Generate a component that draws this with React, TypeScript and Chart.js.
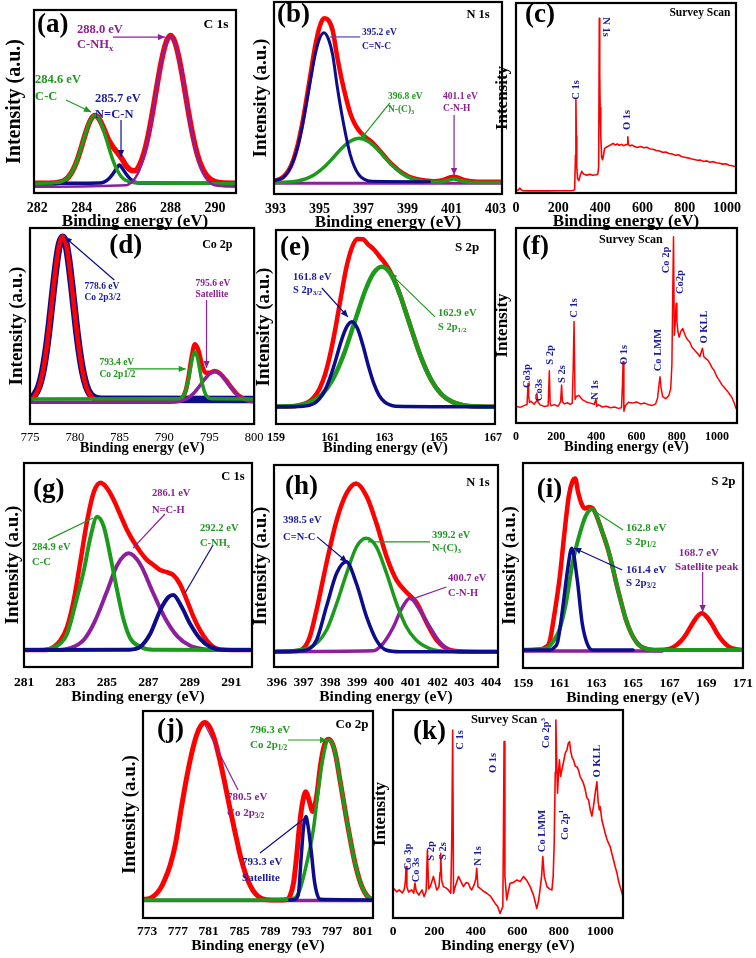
import React, { useEffect, useRef } from "react";
import { Chart, registerables } from "chart.js";
Chart.register(...registerables);

const FONT = "'Liberation Serif', 'Times New Roman', Times, serif";
const RED = "#ff0000";
const GRN = "#1c9a1c";
const NAV = "#0c0c8c";
const PUR = "#8e1f9c";
const TG = "#1f991f";
const TN = "#1b1b9b";
const TP = "#8a2290";
const BLK = "#000000";

// ---------- (a) C 1s ----------
const aTicks = [282, 284, 286, 288, 290];
const aRedE = [281.85, 282.5, 283.0, 283.2, 283.4, 283.6, 283.8, 284.0, 284.2, 284.4, 284.6, 284.8, 285.0, 285.2, 285.4, 285.6, 285.8, 286.0, 286.2, 286.4, 286.6, 286.8, 287.0, 287.2, 287.4, 287.6, 287.8, 288.0, 288.2, 288.4, 288.6, 288.8, 289.0, 289.2, 289.4, 289.6, 289.8, 290.0, 290.4, 290.95];
const aRedI = [5.3, 5.3, 5.9, 6.8, 8.7, 12.4, 18.1, 25.7, 33.7, 39.9, 42.3, 40.2, 35, 29.3, 25.3, 22.2, 18.9, 14.9, 12.6, 12.2, 15.2, 21.7, 31.7, 44.8, 59.3, 72.7, 82.3, 86, 82.3, 72.7, 59.3, 44.8, 31.7, 21.5, 14.4, 10, 7.5, 6.2, 5.4, 5.3];
const aGreenE = [281.85, 283.0, 283.2, 283.4, 283.6, 283.8, 284.0, 284.2, 284.4, 284.6, 284.8, 285.0, 285.2, 285.4, 285.6, 285.8, 286.0, 286.4, 290.95];
const aGreenI = [5.3, 5.9, 6.8, 8.7, 12.4, 18.1, 25.7, 33.7, 39.9, 42.3, 39.9, 33.7, 25.7, 18.1, 12.4, 8.7, 6.8, 5.6, 5.3];
const aBlueE = [281.85, 284.8, 285.0, 285.2, 285.4, 285.6, 285.7, 285.8, 286.0, 286.2, 286.4, 286.6, 290.95];
const aBlueI = [5.3, 5.5, 6.0, 7.5, 10.4, 14, 15.3, 14, 10.4, 7.5, 6.0, 5.5, 5.3];
const aPurpleE = [281.85, 286.0, 286.2, 286.4, 286.6, 286.8, 287.0, 287.2, 287.4, 287.6, 287.8, 288.0, 288.2, 288.4, 288.6, 288.8, 289.0, 289.2, 289.4, 289.6, 289.8, 290.0, 290.95];
const aPurpleI = [3.4, 4.2, 5.5, 8, 12.5, 20, 30.5, 44, 59, 72, 82, 85.5, 82, 72, 59, 44, 30.5, 20, 12.5, 8, 5.5, 4.2, 3.4];

// ---------- (b) N 1s ----------
const bTicks = [393, 395, 397, 399, 401, 403];
const bRedE = [392.93, 393.2, 393.4, 393.6, 393.8, 394.0, 394.2, 394.4, 394.6, 394.8, 395.0, 395.2, 395.4, 395.6, 395.8, 396.0, 396.2, 396.4, 396.6, 396.8, 397.0, 397.2, 397.4, 397.6, 397.8, 398.0, 398.2, 398.4, 398.6, 398.8, 399.0, 399.4, 399.8, 400.2, 400.6, 400.9, 401.1, 401.3, 401.6, 402.2, 403.3];
const bRedI = [7.0, 7.8, 9.4, 12.4, 17.5, 25.2, 35.8, 48.9, 63, 76.8, 86.9, 91.5, 90.5, 85.1, 71.8, 60.2, 50.3, 42, 36.6, 33, 30.6, 28.6, 26.9, 24.4, 21.8, 19.1, 16.5, 14.4, 12.4, 10.8, 9.4, 7.8, 7.0, 6.6, 7.2, 8.5, 9, 8.5, 7.2, 6.4, 6.4];
const bBlueE = [392.93, 393.2, 393.4, 393.6, 393.8, 394.0, 394.2, 394.4, 394.6, 394.8, 395.0, 395.2, 395.4, 395.6, 395.8, 396.0, 396.2, 396.4, 396.6, 396.8, 397.0, 397.4, 400.0];
const bBlueI = [6.9, 7.7, 9.2, 12.1, 16.9, 24.3, 34.4, 46.8, 60, 72.4, 80.9, 84, 80.9, 72.4, 56.4, 42.4, 30.4, 20.4, 13.9, 9.9, 7.9, 6.6, 6.4];
const bGreenE = [392.93, 393.6, 394.0, 394.4, 394.8, 395.2, 395.6, 396.0, 396.4, 396.8, 397.2, 397.6, 398.0, 398.4, 398.8, 399.2, 399.6, 400.0, 400.5, 400.8, 401.1, 401.4, 401.7, 402.2, 403.3];
const bGreenI = [6.0, 6.2, 6.8, 8.0, 10.3, 13.9, 18.6, 23.7, 27.5, 29, 27.5, 23.7, 18.6, 13.9, 10.3, 8.0, 6.8, 6.2, 6.3, 7.0, 7.8, 7.0, 6.3, 6.0, 6.0];
const bPurpleE = [392.93, 403.3];
const bPurpleI = [5.6, 5.6];

// ---------- (c) survey ----------
const surveyTicks = [0, 200, 400, 600, 800, 1000];
const cE = [0, 10, 18, 25, 35, 60, 100, 150, 200, 250, 270, 278, 282, 284, 286, 288, 292, 298, 305, 312, 320, 335, 350, 365, 380, 388, 392, 395, 397, 399,
  402, 406, 410, 415, 420, 430, 440, 450, 460, 470, 480, 490, 500, 510, 520, 527, 530, 533, 540, 550,
  560, 575, 590, 605, 620, 635, 650, 665, 680, 695, 710, 725, 740, 755, 770, 785, 800, 815, 830, 845, 860, 875, 890, 905, 920, 935, 950, 965, 980, 995, 1010, 1025, 1043];
const cI = [1.3, 1.5, 2.6, 1.6, 1.2, 1.1, 1.2, 1.1, 1.2, 1.2, 1.3, 1.8, 20, 49, 30, 14, 7.5, 6.5, 9.5, 11.4, 10, 9.4, 9.8, 9.3, 9.6, 10, 14, 92, 62, 45,
  30, 19, 17.5, 20, 23.5, 24.2, 24.8, 25.4, 26.1, 25.3, 25.8, 25.1, 25.6, 24.9, 25.4, 25.6, 29.6, 25.4, 24.8, 25.2,
  24.6, 24.0, 24.5, 23.8, 24.1, 23.2, 23.0, 22.4, 22.1, 21.4, 21.6, 20.8, 20.6, 19.8, 20.1, 19.2, 18.8, 18.5, 18.0, 17.6, 17.2, 17.3, 16.6, 16.9, 16.2, 16.5, 15.9, 15.7, 15.2, 15.4, 14.6, 14.3, 13.8];

// ---------- (d) Co 2p ----------
const dTicks = [775, 780, 785, 790, 795, 800];
const dRedE = [775, 775.5, 776.0, 776.4, 776.8, 777.2, 777.6, 778.0, 778.3, 778.65, 779.0, 779.3, 779.7, 780.1, 780.5, 780.9, 781.3, 781.7, 782.2, 783, 785, 788, 790, 791.0, 791.6, 792.0, 792.4, 792.7, 793.0, 793.4, 793.8, 794.2, 794.6, 795.0, 795.6, 796.2, 796.8, 797.4, 798.0, 798.6, 799.2, 800];
const dRedI = [12.3, 14.1, 18.7, 25.9, 37.1, 52, 68.8, 84.1, 92.1, 95.6, 92.1, 84.1, 68.8, 52, 37.1, 25.9, 18.7, 14.8, 12.5, 11.5, 11.4, 11.4, 11.4, 11.5, 11.9, 13.2, 17.5, 24.4, 33.3, 40.7, 37.4, 29.7, 26.1, 26.1, 27, 25.8, 22.7, 19, 15.7, 13.5, 12.3, 11.7];
const dBlueE = [775, 775.5, 776.0, 776.4, 776.8, 777.2, 777.6, 778.0, 778.3, 778.65, 779.0, 779.3, 779.7, 780.1, 780.5, 780.9, 781.3, 781.7, 782.2, 783, 800];
const dBlueI = [13.2, 14.8, 19.2, 26.3, 37.3, 52, 68.8, 84, 92, 95.3, 92, 84, 68.8, 52, 37.3, 26.3, 19.2, 15.4, 13.4, 12.6, 12.5];
const dGreenE = [775, 791.6, 792.0, 792.3, 792.6, 792.9, 793.1, 793.4, 793.7, 793.9, 794.2, 794.5, 794.8, 795.2, 800];
const dGreenI = [12.8, 12.9, 13.7, 16, 21, 28.6, 33.5, 36.8, 33.5, 28.6, 21, 16, 13.7, 12.9, 12.8];
const dPurpleE = [775, 791.6, 792.0, 792.6, 793.2, 793.8, 794.4, 795.0, 795.6, 796.2, 796.8, 797.4, 798.0, 798.6, 799.2, 800];
const dPurpleI = [11.1, 11.5, 12, 13.2, 15.4, 18.7, 22.4, 25.5, 26.7, 25.5, 22.4, 18.7, 15.4, 13.2, 12, 11.3];

// ---------- (e) S 2p ----------
const eTicks = [159, 161, 163, 165, 167];
const eRedE = [159, 159.6, 160.0, 160.2, 160.4, 160.6, 160.8, 161.0, 161.2, 161.4, 161.6, 161.8, 162.0, 162.2, 162.4, 162.6, 162.8, 163.0, 163.2, 163.4, 163.6, 163.8, 164.0, 164.2, 164.4, 164.6, 164.8, 165.0, 165.2, 165.4, 165.6, 165.8, 166.2, 167.07];
const eRedI = [8.9, 9.0, 10.2, 11.4, 13.8, 18.1, 25.2, 36.1, 50.1, 66.1, 81, 91, 95.3, 95.2, 92.5, 90.1, 86.6, 83.2, 78.8, 72.9, 65.4, 57, 48.4, 40, 32.4, 26, 20.8, 16.9, 14, 12.1, 10.8, 10, 9.2, 8.9];
const eBlueE = [159, 160.0, 160.4, 160.6, 160.8, 161.0, 161.2, 161.4, 161.6, 161.8, 162.0, 162.2, 162.4, 162.6, 162.8, 163.0, 163.2, 163.4, 167.07];
const eBlueI = [8.9, 9.1, 10.6, 13, 17.2, 24.2, 33, 42.6, 49.9, 52.7, 49.3, 40.7, 30.2, 21.1, 14.8, 11.4, 9.8, 9.2, 8.9];
const eGreenE = [159, 159.5, 159.9, 160.3, 160.7, 161.1, 161.5, 161.9, 162.3, 162.6, 162.9, 163.2, 163.5, 163.9, 164.3, 164.7, 165.1, 165.5, 165.9, 166.3, 167.07];
const eGreenI = [9.0, 9.1, 9.7, 11.4, 15.3, 23.2, 36, 52.7, 69.2, 77.9, 81.1, 77.9, 69.2, 52.7, 36, 23.2, 15.3, 11.4, 9.7, 9.1, 8.9];

// ---------- (f) survey ----------
const fE = [0, 20, 40, 55, 60, 63, 67, 75, 90, 100, 104, 108, 120, 140, 160, 166, 170, 175, 190, 210, 222, 227, 231, 240, 255, 270, 280, 285, 289, 294,
  300, 312, 330, 350, 370, 390, 398, 402, 410, 430, 450, 470, 490, 510, 525, 530, 533, 537, 545, 560, 580, 600, 620, 640, 660, 680, 695, 705, 712, 717,
  722, 730, 745, 760, 770, 776, 780, 784, 788, 792, 797, 801, 806, 812, 820, 830, 838, 846, 855, 865, 875, 885, 895, 905, 915, 922, 928, 935, 945, 955,
  965, 975, 985, 995, 1005, 1015, 1025, 1035, 1045, 1055, 1065, 1075, 1085, 1095, 1100];
const fI = [8.6, 8.0, 8.9, 9.5, 20.3, 14, 10.5, 11.2, 9.6, 11, 15.2, 11, 9.3, 8.5, 8.8, 26.8, 10, 8.8, 9.4, 8.6, 11, 19.5, 11, 9.8, 10.4, 9.6, 10.2, 30, 52, 12,
  13.6, 14.2, 12, 10.8, 10.2, 9.6, 12.3, 8.6, 9.4, 8.2, 8.6, 7.8, 8.2, 7.5, 7.8, 20, 31.4, 6, 9, 10.6, 10.2, 10.8, 9.8, 10.2, 9.4, 9.0, 9.8, 13, 20, 23.7,
  18, 13.5, 12.5, 14, 17.5, 30, 65, 95.5, 45, 50, 61.4, 52, 46.8, 44, 47, 48.5, 46, 44, 42.6, 41.5, 39, 37.8, 36.6, 35.5, 34, 36.5, 38.3, 34, 33, 32.2,
  30.6, 28.5, 27.2, 24.8, 22.9, 21.3, 19.5, 18.5, 17.2, 16, 14.5, 13, 10.5, 7.5, 7.8];

// ---------- (g) C 1s ----------
const gTicks = [281, 283, 285, 287, 289, 291];
const gRedE = [281, 282.0, 282.44, 282.76, 283.08, 283.4, 283.73, 284.05, 284.37, 284.69, 285.01, 285.33, 285.65, 285.97, 286.29, 286.61, 286.93, 287.25, 287.57, 287.89, 288.21, 288.53, 288.85, 289.17, 289.49, 289.81, 290.13, 290.45, 292];
const gRedI = [8.3, 8.3, 9.9, 13.1, 19.6, 32.7, 52.3, 71.9, 85.8, 90.3, 87.6, 81.9, 74.5, 67.2, 61.4, 56.5, 52.5, 50, 47.5, 46.5, 45, 40.5, 32.9, 24.7, 18.1, 13.2, 9.9, 8.6, 8.3];
const gGreenE = [281, 282.0, 282.76, 283.08, 283.57, 283.89, 284.21, 284.53, 284.85, 285.17, 285.49, 285.81, 286.13, 286.61, 287.2, 292];
const gGreenI = [8.3, 8.5, 11.6, 16.3, 34.5, 47.5, 63.9, 73.7, 68.8, 54.1, 37.7, 23, 14, 9.9, 8.4, 8.3];
const gPurpleE = [281, 282.5, 283.3, 283.9, 284.4, 285.0, 285.5, 286.05, 286.6, 287.2, 287.8, 288.4, 289.0, 289.6, 290.5, 292];
const gPurpleI = [8.3, 8.3, 9.5, 13.5, 22, 37, 50, 55.7, 50.5, 37, 24, 15, 10.5, 8.8, 8.3, 8.3];
const gBlueE = [281, 286.1, 286.61, 287.09, 287.57, 287.97, 288.2, 288.61, 289.01, 289.49, 289.97, 290.5, 292];
const gBlueI = [8.3, 8.5, 9.9, 16.3, 27.8, 34.3, 35.3, 29.4, 21.2, 13.9, 9.9, 8.5, 8.3];

// ---------- (h) N 1s ----------
const hTicks = [396, 397, 398, 399, 400, 401, 402, 403, 404];
const hRedE = [395.89, 396.6, 396.98, 397.23, 397.48, 397.85, 398.23, 398.6, 398.96, 399.35, 399.72, 400.1, 400.47, 400.84, 401.21, 401.59, 401.96, 402.46, 403, 404.26];
const hRedI = [7.6, 7.8, 9.2, 15, 28.2, 51.3, 72.6, 86, 90.9, 84.5, 71, 54.5, 43, 37, 32, 22, 13.5, 8.5, 7.7, 7.6];
const hBlueE = [395.89, 397.0, 397.48, 397.85, 398.23, 398.59, 398.97, 399.35, 399.72, 400.1, 400.6, 404.26];
const hBlueI = [7.6, 8.2, 13.4, 29.9, 46.4, 52.1, 41.3, 24.8, 13.2, 8.3, 7.6, 7.6];
const hGreenE = [395.89, 397.2, 397.85, 398.23, 398.6, 398.97, 399.33, 399.72, 400.1, 400.47, 400.84, 401.21, 401.71, 402.3, 404.26];
const hGreenI = [7.6, 9.5, 18.2, 31.4, 46.2, 59.4, 63.7, 59.4, 46.2, 31.4, 19.8, 13.2, 9.1, 7.8, 7.6];
const hPurpleE = [395.89, 399.6, 399.97, 400.35, 400.66, 400.97, 401.34, 401.71, 402.08, 402.46, 403, 404.26];
const hPurpleI = [7.6, 8.0, 11.7, 19.8, 28.9, 34, 28.1, 19.8, 12.4, 8.3, 7.6, 7.6];

// ---------- (i) S 2p ----------
const iTicks = [159, 161, 163, 165, 167, 169, 171];
const iRedE = [159, 160.0, 160.2, 160.45, 160.7, 161.0, 161.25, 161.5, 161.7, 161.85, 162.0, 162.2, 162.4, 162.6, 162.8, 163.0, 163.3, 163.6, 163.84, 164.1, 164.37, 164.6, 164.9, 165.2, 165.44, 165.8, 166.2, 166.8, 167.2, 167.6, 167.9, 168.2, 168.5, 168.75, 169.0, 169.3, 169.6, 169.9, 170.2, 170.6, 171];
const iRedI = [8.8, 9.2, 10, 12.7, 25.5, 44, 65, 84, 91, 92.5, 86, 80, 77.8, 78.5, 78, 74.5, 67, 59, 51, 41, 31.5, 24, 17, 12.5, 10.4, 9.2, 8.8, 9, 10.2, 13, 16.5, 21, 25, 26.7, 25.2, 21.5, 16.7, 13, 10.6, 9.2, 8.8];
const iBlueE = [159, 160.5, 160.7, 160.89, 161.16, 161.43, 161.66, 161.96, 162.23, 162.5, 162.8, 165];
const iBlueI = [8.8, 8.8, 10, 12.7, 28.8, 47.8, 58.4, 43, 21.8, 11.9, 8.8, 8.8];
const iGreenE = [159, 160.3, 160.62, 160.98, 161.34, 161.7, 162.05, 162.41, 162.77, 163.0, 163.3, 163.6, 163.84, 164.1, 164.37, 164.6, 164.9, 165.2, 165.44, 165.8, 166.2, 171];
const iGreenI = [8.8, 9.5, 12.7, 18.5, 31.5, 51, 64, 74, 77.6, 74.5, 67, 59, 51, 41, 31.5, 24, 17, 12.5, 10.4, 9.2, 8.8, 8.8];
const iPurpleE = [159, 166.6];
const iPurpleI = [8.3, 8.3];

// ---------- (j) Co 2p ----------
const jTicks = [773, 777, 781, 785, 789, 793, 797, 801];
const jRedE = [772.48, 773.4, 774.0, 774.7, 775.3, 776.0, 776.7, 777.4, 778.0, 778.7, 779.4, 780.0, 780.5, 781.0, 781.7, 782.4, 783.1, 783.8, 784.5, 785.1, 785.8, 786.4, 787.1, 787.8, 788.5, 790, 791.0, 791.5, 792.0, 792.4, 792.8, 793.2, 793.6, 794.0, 794.5, 795.0, 795.5, 796.0, 796.5, 797.0, 797.5, 798.0, 798.5, 799.0, 799.5, 800.0, 800.5, 801.0, 801.5, 802.0, 802.3];
const jRedI = [8.9, 9.5, 11, 14, 18.5, 25.5, 36, 52, 65, 78, 88, 93, 94.5, 93, 87, 77, 65, 52, 40, 30, 21, 15.5, 11.5, 9.5, 8.8, 8.7, 8.8, 10.3, 17, 30, 45.7, 56.5, 61, 57, 51.5, 59, 74, 83.5, 86.3, 84.5, 78, 67, 56, 45, 35, 26, 19, 14, 10.8, 9.2, 8.9];
const jBlueE = [791.5, 792.0, 792.6, 793.0, 793.3, 793.6, 793.9, 794.3, 794.7, 795.1, 795.5, 802.3];
const jBlueI = [8.7, 8.8, 11, 30, 44, 49, 44, 32, 18, 11, 9, 8.7];
const jGreenE = [772.48, 789, 792.0, 792.8, 793.7, 794.56, 795.2, 795.8, 796.5, 797.0, 797.5, 798.0, 798.5, 799.0, 799.5, 800.0, 800.5, 801.0, 801.5, 802.3];
const jGreenI = [8.7, 8.7, 9.5, 13.5, 26.4, 42.5, 61.8, 77, 86, 84.5, 78, 67, 56, 45, 35, 26, 19, 14, 10.8, 8.9];
const jPurpleE = [772.48, 802.3];
const jPurpleI = [8.4, 8.4];

// ---------- (k) survey ----------
const kE = [5, 18, 30, 45, 55, 60, 63, 67, 75, 90, 100, 106, 112, 125, 140, 150, 160, 166, 172, 180, 195, 211, 222, 227, 230, 235, 243, 255, 267, 279,
  284, 288, 292, 300, 316, 328, 340, 352, 364, 372, 380, 392, 400, 404, 410, 420, 435, 453, 470, 480, 493, 505, 517, 524, 530, 533, 536, 540, 549, 557,
  565, 580, 598, 614, 630, 646, 662, 678, 694, 702, 710, 717, 723, 730, 743, 755, 767, 773, 778, 783, 786, 790, 794, 799, 803, 809, 815, 823, 831, 840,
  846, 852, 858, 865, 871, 880, 888, 895, 903, 911, 919, 927, 935, 944, 952, 960, 968, 976, 984, 990, 996, 1000, 1008, 1016, 1024, 1032, 1040, 1048, 1056, 1064,
  1072, 1080, 1088, 1096, 1104, 1110];
const kI = [14, 12.6, 13.5, 12, 14, 18, 24.7, 15, 12.5, 13.5, 12, 16.8, 13, 11, 13.5, 10.3, 13, 32.7, 14, 15.1, 20, 13.5, 15, 22, 31.1, 18, 15.1, 14.5, 13.5, 11.9,
  40, 90.4, 11.9, 15, 20, 17.5, 15.1, 17, 16.7, 14.5, 13.5, 16, 19, 23.9, 15, 14.3, 13, 11.9, 10.5, 9, 7, 5.5, 2.2, 4, 5.4, 40, 84.8, 20, 8.7, 13,
  16.7, 17, 18.3, 17.5, 20, 18, 15.1, 11, 4.6, 8, 14, 20, 29.5, 20, 15.1, 14, 13.5, 20, 35.9, 70, 95.2, 75, 60, 70, 76, 68, 71.2, 75, 79.2, 81,
  84, 84.8, 80, 77, 76, 73, 72.5, 71.2, 68, 66.5, 64.8, 62, 58, 56.7, 52, 49, 54, 60, 65.5, 56, 52, 53.5, 47, 44, 40.7, 38, 36, 34.3, 31, 28,
  24.7, 22, 18, 15, 12.5, 10.2];

// ---------- panel specs ----------
const C = (xs, ys, color, width, smooth = true) => ({ xs, ys, color, width, smooth });
const N = (t, x, y, c, s, al = "left", rot = 0, w = "bold") => ({ t, x, y, c, s, al, rot, w });
const A = (x1, y1, x2, y2, c, head = true) => ({ x1, y1, x2, y2, c, head });

const ROW1 = { tickSize: 14, tickWeight: "bold", tickOff: 15, titleSize: 17, titleOff: 29 };
const ROW2 = { tickSize: 12, tickWeight: "bold", tickOff: 14, titleSize: 14.5, titleOff: 24 };
const ROW3 = { tickSize: 13.5, tickWeight: "bold", tickOff: 16, titleSize: 15.5, titleOff: 30 };
const ROW4 = { tickSize: 13.5, tickWeight: "bold", tickOff: 14, titleSize: 15.5, titleOff: 28 };
const YT = "Intensity (a.u.)";

const PANELS = [
  {
    ...ROW1, L: 34, T: 10, W: 202, H: 183, xMin: 281.85, xMax: 290.95, ticks: aTicks,
    yTitle: YT, yTitleSize: 20, yTitleOff: -19,
    curves: [C(aRedE, aRedI, RED, 5.5), C(aBlueE, aBlueI, NAV, 3.5), C(aGreenE, aGreenI, GRN, 3.5), C(aPurpleE, aPurpleI, PUR, 2.5)],
    notes: [N("(a)", 281.99, 91.8, BLK, 27), N("C 1s", 290.05, 92.3, BLK, 13.5, "center"),
      N("288.0 eV", 283.79, 89.1, TP, 12.5), N("C-NH_{x}", 283.79, 80.9, TP, 12.5),
      N("284.6 eV", 281.9, 61.7, TG, 12.5), N("C-C", 281.9, 52.5, TG, 12.5),
      N("285.7 eV", 284.6, 51.4, TN, 12.5), N("N=C-N", 284.6, 42.6, TN, 12.5)],
    arrows: [A(285.41, 85.2, 287.75, 85.2, PUR), A(283.29, 50.8, 284.42, 44.3, GRN), A(285.77, 39.9, 285.77, 19.7, NAV)],
  },
  {
    ...ROW1, L: 274, T: 2, W: 228, H: 192, xMin: 392.93, xMax: 403.3, ticks: bTicks,
    yTitle: YT, yTitleSize: 19, yTitleOff: -13,
    curves: [C(bPurpleE, bPurpleI, PUR, 3), C(bRedE, bRedI, RED, 4.5), C(bGreenE, bGreenI, GRN, 3.5), C(bBlueE, bBlueI, NAV, 3)],
    notes: [N("(b)", 393.07, 93.2, BLK, 27), N("N 1s", 402.21, 93.2, BLK, 12.5, "center"),
      N("395.2 eV", 396.93, 83.9, TN, 9.5), N("C=N-C", 396.93, 76.6, TN, 9.5),
      N("396.8 eV", 398.11, 50.5, TG, 9.5), N("N-(C)_{3}", 398.11, 43.8, TG, 9.5),
      N("401.1 eV", 400.62, 50.5, TP, 9.5), N("C-N-H", 400.62, 44.3, TP, 9.5)],
    arrows: [A(396.85, 81.8, 395.48, 81.8, "#4a4ab4", false), A(398.2, 47.4, 396.84, 28.1, GRN), A(401.12, 41.1, 401.12, 9.9, PUR)],
  },
  {
    ...ROW1, L: 516, T: 3, W: 220, H: 190, xMin: 0, xMax: 1043, ticks: surveyTicks,
    yTitle: "Intensity", yTitleSize: 17, yTitleOff: -13,
    curves: [C(cE, cI, RED, 1.6, false)],
    notes: [N("(c)", 42.7, 93.7, BLK, 27), N("Survey Scan", 872, 94.7, BLK, 11.5, "center"),
      N("C 1s", 284.4, 54.2, TN, 10.5, "center", -90), N("N 1s", 426.5, 87.4, TN, 10.5, "center", 90),
      N("O 1s", 526, 38.4, TN, 10.5, "center", -90)],
    arrows: [],
  },
  {
    ...ROW2, tickWeight: "normal", tickSize: 12.5, L: 30, T: 228, W: 226, H: 196, xMin: 775, xMax: 800, ticks: dTicks,
    yTitle: YT, yTitleSize: 19, yTitleOff: -12.5,
    curves: [C(dBlueE, dBlueI, NAV, 7.5), C(dRedE, dRedI, RED, 4.5), C(dPurpleE, dPurpleI, PUR, 3.5), C(dGreenE, dGreenI, GRN, 3.5)],
    notes: [N("(d)", 783.85, 90.8, BLK, 27), N("Co 2p", 795.9, 91.3, BLK, 12, "center"),
      N("778.6 eV", 781.08, 69.9, TN, 9.5), N("Co 2p3/2", 781.08, 64.3, TN, 9.5),
      N("795.6 eV", 793.47, 71.9, TP, 9.5), N("Satellite", 793.47, 65.8, TP, 9.5),
      N("793.4 eV", 782.74, 31.6, TG, 9.5), N("Co 2p1/2", 782.74, 25, TG, 9.5)],
    arrows: [A(784.4, 73.5, 778.87, 95.4, NAV), A(794.69, 63.3, 794.69, 28.6, PUR), A(785.84, 28.1, 792.37, 28.1, GRN)],
  },
  {
    ...ROW2, L: 276, T: 230, W: 219, H: 194, xMin: 159, xMax: 167.07, ticks: eTicks,
    yTitle: YT, yTitleSize: 19, yTitleOff: -12,
    curves: [C(eRedE, eRedI, RED, 4.5), C(eGreenE, eGreenI, GRN, 4.5), C(eBlueE, eBlueI, NAV, 3.5)],
    notes: [N("(e)", 159.15, 90.7, BLK, 27), N("S 2p", 166.04, 90.7, BLK, 13, "center"),
      N("161.8 eV", 159.63, 75.8, TN, 10.5), N("S 2p_{3/2}", 159.63, 69.1, TN, 10.5),
      N("162.9 eV", 164.97, 57.2, TG, 10.5), N("S 2p_{1/2}", 164.97, 50, TG, 10.5)],
    arrows: [A(160.69, 70.1, 161.65, 55.2, NAV), A(164.86, 55.2, 163.2, 77.8, GRN)],
  },
  {
    ...ROW2, L: 516, T: 228, W: 221, H: 195, xMin: 0, xMax: 1100, ticks: surveyTicks,
    yTitle: "Intensity", yTitleSize: 17, yTitleOff: -13,
    curves: [C(fE, fI, RED, 1.5, false)],
    notes: [N("(f)", 30, 90.3, BLK, 27), N("Survey Scan", 572, 93.8, BLK, 12, "center"),
      N("Co3p", 55, 24.1, TN, 10.5, "center", -90), N("Co3s", 114, 16.9, TN, 10.5, "center", -90),
      N("S 2p", 169, 34.9, TN, 10.5, "center", -90), N("S 2s", 229, 25.1, TN, 10.5, "center", -90),
      N("C 1s", 289, 59, TN, 10.5, "center", -90), N("N 1s", 393, 16.9, TN, 10.5, "center", -90),
      N("O 1s", 538, 34.9, TN, 10.5, "center", -90), N("Co LMM", 707, 37.4, TN, 10.5, "center", -90),
      N("Co 2p", 747, 83.6, TN, 10.5, "center", -90), N("Co2p", 816, 72.3, TN, 10.5, "center", -90),
      N("O KLL", 936, 49.2, TN, 10.5, "center", -90)],
    arrows: [],
  },
  {
    ...ROW3, L: 24, T: 463, W: 228, H: 204, xMin: 281, xMax: 292, ticks: gTicks,
    yTitle: YT, yTitleSize: 19, yTitleOff: -10.5,
    curves: [C(gRedE, gRedI, RED, 4.5), C(gPurpleE, gPurpleI, PUR, 4), C(gGreenE, gGreenI, GRN, 4), C(gBlueE, gBlueI, NAV, 4)],
    notes: [N("(g)", 281.43, 86.8, BLK, 27), N("C 1s", 291.08, 93.1, BLK, 12.5, "center"),
      N("286.1 eV", 287.17, 85.3, TP, 10.5), N("N=C-H", 287.17, 77, TP, 10.5),
      N("292.2 eV", 289.49, 68.1, TG, 10.5), N("C-NH_{x}", 289.49, 60.8, TG, 10.5),
      N("284.9 eV", 281.39, 58.8, TG, 10.5), N("C-C", 281.39, 51.5, TG, 10.5)],
    arrows: [A(287.8, 75, 286.26, 58.3, PUR, false), A(290.12, 59.8, 288.77, 36.3, NAV, false), A(282.16, 62.3, 284.33, 73, GRN, false)],
  },
  {
    ...ROW3, L: 274, T: 465, W: 224, H: 202, xMin: 395.89, xMax: 404.26, ticks: hTicks,
    yTitle: YT, yTitleSize: 19, yTitleOff: -12.5,
    curves: [C(hRedE, hRedI, RED, 4.5), C(hPurpleE, hPurpleI, PUR, 3.5), C(hGreenE, hGreenI, GRN, 3.5), C(hBlueE, hBlueI, NAV, 3.5)],
    notes: [N("(h)", 396.3, 89.1, BLK, 27), N("N 1s", 403.51, 91.1, BLK, 12.5, "center"),
      N("398.5 eV", 396.23, 72.8, TN, 10.5), N("C=N-C", 396.23, 64.4, TN, 10.5),
      N("399.2 eV", 401.79, 65.3, TG, 10.5), N("N-(C)_{3}", 401.79, 58.9, TG, 10.5),
      N("400.7 eV", 402.39, 44.1, TP, 10.5), N("C-N-H", 402.39, 36.6, TP, 10.5)],
    arrows: [A(397.5, 64.4, 398.62, 52, NAV), A(401.72, 61.9, 399.4, 61.9, GRN, false), A(402.33, 39.6, 400.97, 33.2, PUR, false)],
  },
  {
    ...ROW3, L: 523, T: 463, W: 224, H: 205, xMin: 159, xMax: 171, ticks: iTicks,
    yTitle: YT, yTitleSize: 19, yTitleOff: -13,
    curves: [C(iRedE, iRedI, RED, 4.5), C(iPurpleE, iPurpleI, PUR, 3.5), C(iGreenE, iGreenI, GRN, 4), C(iBlueE, iBlueI, NAV, 3.5)],
    notes: [N("(i)", 159.75, 86.8, BLK, 27), N("S 2p", 169.93, 90.7, BLK, 13, "center"),
      N("162.8 eV", 164.62, 68.3, TG, 11), N("S 2p_{1/2}", 164.62, 61.5, TG, 11),
      N("161.4 eV", 164.62, 47.8, TN, 11), N("S 2p_{3/2}", 164.62, 41.5, TN, 11),
      N("168.7 eV", 168.59, 56.1, TP, 11, "center"), N("Satellite peak", 169.02, 49.3, TP, 11, "center")],
    arrows: [A(164.46, 67.3, 162.96, 76.1, GRN, false), A(164.41, 47.8, 161.79, 58.5, NAV), A(168.8, 46.8, 168.8, 27.3, PUR)],
  },
  {
    ...ROW4, L: 143, T: 711, W: 230, H: 207, xMin: 772.48, xMax: 802.3, ticks: jTicks,
    yTitle: YT, yTitleSize: 19, yTitleOff: -13,
    curves: [C(jPurpleE, jPurpleI, PUR, 3.5), C(jRedE, jRedI, RED, 5), C(jGreenE, jGreenI, GRN, 3.5), C(jBlueE, jBlueI, NAV, 3.5)],
    notes: [N("(j)", 774.3, 90.8, BLK, 27), N("Co 2p", 799.58, 93.2, BLK, 13, "center"),
      N("796.3 eV", 786.35, 90.8, TG, 11), N("Co 2p_{1/2}", 786.35, 83.6, TG, 11),
      N("780.5 eV", 783.37, 58.5, TP, 11), N("Co 2p_{3/2}", 783.37, 50.7, TP, 11),
      N("793.3 eV", 785.32, 27.1, TN, 11), N("Satellite", 785.32, 19.3, TN, 11)],
    arrows: [A(791.28, 86, 796.34, 86, GRN), A(784.8, 61.8, 780.52, 93.2, PUR, false), A(787.65, 31.4, 793.48, 48.3, NAV, false)],
  },
  {
    ...ROW4, L: 393, T: 710, W: 230, H: 208, xMin: 0, xMax: 1110, ticks: surveyTicks,
    yTitle: "Intensity", yTitleSize: 17, yTitleOff: -12,
    curves: [C(kE, kI, RED, 1.6, false)],
    notes: [N("(k)", 96.5, 89.4, BLK, 27), N("Survey Scan", 536, 95.2, BLK, 12.5, "center"),
      N("Co 3p", 74, 29.3, TN, 10.5, "center", -90), N("Co 3s", 114, 23.1, TN, 10.5, "center", -90),
      N("S 2p", 183, 32.2, TN, 10.5, "center", -90), N("S 2s", 243, 32.2, TN, 10.5, "center", -90),
      N("C 1s", 323, 85.6, TN, 10.5, "center", -90), N("N 1s", 412, 29.8, TN, 10.5, "center", -90),
      N("O 1s", 484, 74.5, TN, 10.5, "center", -90), N("Co LMM", 721, 41.8, TN, 10.5, "center", -90),
      N("Co 2p^{3}", 742, 88.9, TN, 10.5, "center", -90), N("Co 2p^{1}", 830, 44.7, TN, 10.5, "center", -90),
      N("O KLL", 988, 75.5, TN, 10.5, "center", -90)],
    arrows: [],
  },
];

// ---------- drawing helpers ----------
function drawRich(ctx, text, x, y, size, weight, color, align) {
  const parts = [];
  const re = /([_^])\{([^}]*)\}/g;
  let last = 0;
  let m;
  while ((m = re.exec(text))) {
    if (m.index > last) parts.push({ t: text.slice(last, m.index), k: 0, w: 0 });
    parts.push({ t: m[2], k: m[1] === "_" ? 1 : 2, w: 0 });
    last = m.index + m[0].length;
  }
  if (last < text.length) parts.push({ t: text.slice(last), k: 0, w: 0 });
  const fontFor = (k) => `${weight} ${k ? size * 0.68 : size}px ${FONT}`;
  let total = 0;
  for (const pt of parts) {
    ctx.font = fontFor(pt.k);
    pt.w = ctx.measureText(pt.t).width;
    total += pt.w;
  }
  let cx = align === "center" ? x - total / 2 : align === "right" ? x - total : x;
  ctx.fillStyle = color;
  ctx.textBaseline = "middle";
  ctx.textAlign = "left";
  for (const pt of parts) {
    ctx.font = fontFor(pt.k);
    const dy = pt.k === 1 ? size * 0.3 : pt.k === 2 ? -size * 0.35 : 0;
    ctx.fillText(pt.t, cx, y + dy);
    cx += pt.w;
  }
}

function drawArrow(ctx, x1, y1, x2, y2, color, head) {
  ctx.strokeStyle = color;
  ctx.lineWidth = 1.2;
  ctx.beginPath();
  ctx.moveTo(x1, y1);
  ctx.lineTo(x2, y2);
  ctx.stroke();
  if (head) {
    const ang = Math.atan2(y2 - y1, x2 - x1);
    const L = 7, w = 3.2;
    const bx = x2 - L * Math.cos(ang), by = y2 - L * Math.sin(ang);
    ctx.fillStyle = color;
    ctx.beginPath();
    ctx.moveTo(x2, y2);
    ctx.lineTo(bx + w * Math.sin(ang), by - w * Math.cos(ang));
    ctx.lineTo(bx - w * Math.sin(ang), by + w * Math.cos(ang));
    ctx.closePath();
    ctx.fill();
  }
}

function makeDeco(p) {
  return {
    id: "deco",
    afterDraw(chart) {
      const { ctx, chartArea: a, scales } = chart;
      const X = (v) => scales.x.getPixelForValue(v);
      const Y = (v) => scales.y.getPixelForValue(v);
      ctx.save();
      for (const ar of p.arrows) drawArrow(ctx, X(ar.x1), Y(ar.y1), X(ar.x2), Y(ar.y2), ar.c, ar.head);
      for (const n of p.notes) {
        ctx.save();
        ctx.translate(X(n.x), Y(n.y));
        if (n.rot) ctx.rotate((n.rot * Math.PI) / 180);
        drawRich(ctx, n.t, 0, 0, n.s, n.w, n.c, n.al);
        ctx.restore();
      }
      ctx.save();
      ctx.translate(a.left + p.yTitleOff, (a.top + a.bottom) / 2);
      ctx.rotate(-Math.PI / 2);
      drawRich(ctx, p.yTitle, 0, 0, p.yTitleSize, "bold", BLK, "center");
      ctx.restore();
      ctx.strokeStyle = BLK;
      ctx.lineWidth = 2.2;
      ctx.strokeRect(a.left, a.top, a.right - a.left, a.bottom - a.top);
      ctx.restore();
    },
  };
}

function buildConfig(p, padL, padR, padT, padB) {
  const n = p.curves.length;
  const titlePadBottom = padB - p.titleOff - 0.6 * p.titleSize;
  return {
    type: "line",
    data: {
      datasets: p.curves.map((c, i) => ({
        data: c.xs.map((x, j) => ({ x, y: c.ys[j] })),
        borderColor: c.color,
        backgroundColor: c.color,
        borderWidth: c.width,
        pointRadius: 0,
        fill: false,
        tension: c.smooth ? 0.4 : 0,
        cubicInterpolationMode: c.smooth ? "monotone" : "default",
        borderJoinStyle: "round",
        borderCapStyle: "round",
        order: n - i,
      })),
    },
    options: {
      responsive: false,
      animation: false,
      events: [],
      layout: { padding: { left: padL, right: padR, top: padT, bottom: 0 } },
      plugins: { legend: { display: false }, tooltip: { enabled: false } },
      scales: {
        x: {
          type: "linear",
          min: p.xMin,
          max: p.xMax,
          grid: { display: false, drawTicks: false },
          border: { display: false },
          afterBuildTicks: (s) => {
            s.ticks = p.ticks.map((v) => ({ value: v }));
          },
          afterFit: (s) => {
            s.height = padB;
          },
          ticks: {
            autoSkip: false,
            maxRotation: 0,
            minRotation: 0,
            padding: p.tickOff - 0.6 * p.tickSize,
            color: BLK,
            font: { family: FONT, size: p.tickSize, weight: p.tickWeight },
            callback: (v) => String(Math.round(Number(v))),
          },
          title: {
            display: true,
            text: "Binding energy (eV)",
            color: BLK,
            font: { family: FONT, size: p.titleSize, weight: "bold" },
            padding: { top: 0, bottom: titlePadBottom },
          },
        },
        y: { type: "linear", min: 0, max: 100, display: false },
      },
    },
    plugins: [makeDeco(p)],
  };
}

function Panel({ p }) {
  const ref = useRef(null);
  const padL = Math.min(p.L, 32);
  const padR = 14;
  const padT = Math.min(p.T, 12);
  const padB = Math.round(p.titleOff + 0.6 * p.titleSize + 1);
  const cw = padL + p.W + padR;
  const ch = padT + p.H + padB;
  useEffect(() => {
    const chart = new Chart(ref.current, buildConfig(p, padL, padR, padT, padB));
    return () => chart.destroy();
  }, []);
  return (
    <canvas
      ref={ref}
      width={cw}
      height={ch}
      style={{ position: "absolute", left: p.L - padL, top: p.T - padT, width: cw, height: ch }}
    />
  );
}

export default function App() {
  return (
    <div style={{ position: "absolute", left: 0, top: 0, width: 756, height: 958, overflow: "hidden", background: "#fff" }}>
      {PANELS.map((p, i) => (
        <Panel key={i} p={p} />
      ))}
    </div>
  );
}
